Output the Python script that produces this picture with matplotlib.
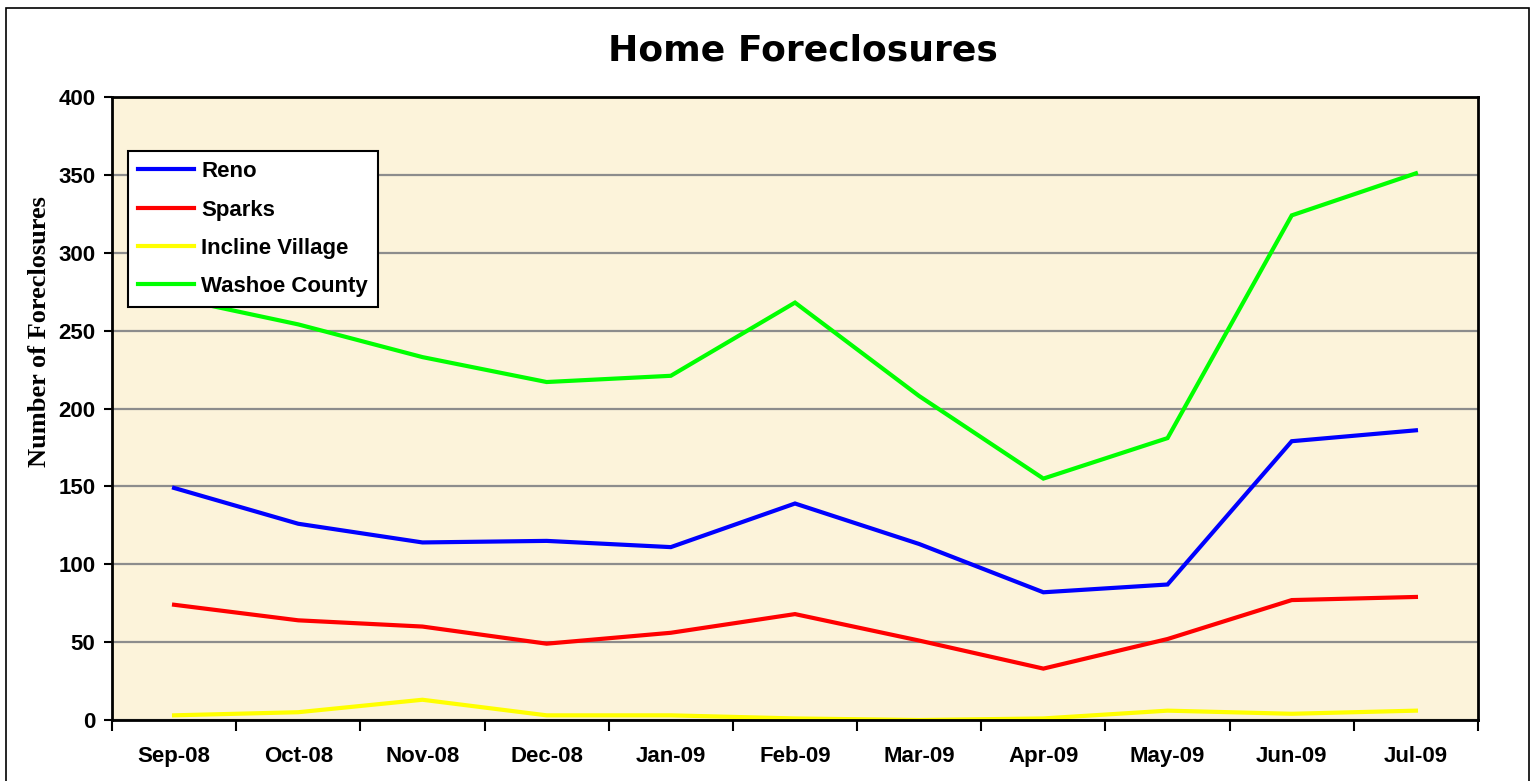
import matplotlib
matplotlib.use("Agg")
import matplotlib.pyplot as plt
from matplotlib.patches import Rectangle

months = ["Sep-08", "Oct-08", "Nov-08", "Dec-08", "Jan-09", "Feb-09",
          "Mar-09", "Apr-09", "May-09", "Jun-09", "Jul-09"]

reno = [149, 126, 114, 115, 111, 139, 113, 82, 87, 179, 186]
sparks = [74, 64, 60, 49, 56, 68, 51, 33, 52, 77, 79]
incline = [3, 5, 13, 3, 3, 1, 0, 1, 6, 4, 6]
washoe = [271, 254, 233, 217, 221, 268, 208, 155, 181, 324, 351]

series = [("Reno", reno, "#0000FF"),
          ("Sparks", sparks, "#FF0000"),
          ("Incline Village", incline, "#FFFF00"),
          ("Washoe County", washoe, "#00FF00")]

fig = plt.figure(figsize=(15.38, 7.81), dpi=100)
fig.patches.append(Rectangle((0.004, -0.01), 0.99, 1.0, transform=fig.transFigure,
                             fill=False, edgecolor="black", linewidth=1.2))

ax = fig.add_axes([0.0728, 0.0781, 0.8882, 0.7977])
ax.set_facecolor("#FCF3DA")

x = list(range(len(months)))
for name, vals, col in series:
    ax.plot(x, vals, color=col, linewidth=3, label=name, solid_joinstyle="miter")

ax.set_xlim(-0.5, len(months) - 0.5)
ax.set_ylim(0, 400)
ax.set_yticks(range(0, 401, 50))
ax.yaxis.grid(True, color="#8C8C8C", linewidth=1.6)
ax.set_axisbelow(True)

ax.set_xticks([i - 0.5 for i in range(len(months) + 1)])
ax.set_xticklabels([])
ax.set_xticks(x, minor=True)
ax.set_xticklabels(months, minor=True)
ax.tick_params(axis="x", which="major", length=8, width=1.5, direction="out")
ax.tick_params(axis="x", which="minor", length=0, pad=19)
ax.tick_params(axis="y", length=6, width=1.5, direction="out", pad=6)

for lbl in ax.get_xticklabels(minor=True) + ax.get_yticklabels():
    lbl.set_fontfamily("Liberation Sans")
    lbl.set_fontweight("bold")
    lbl.set_fontsize(16)

for sp in ax.spines.values():
    sp.set_linewidth(2)
    sp.set_color("black")

ax.set_ylabel("Number of Foreclosures", fontfamily="Liberation Serif",
              fontweight="bold", fontsize=19, va="center")
ax.yaxis.set_label_coords(-0.0527, 0.624)

fig.text(0.522, 0.935, "Home Foreclosures", ha="center", va="center",
         fontfamily="DejaVu Sans", fontweight="bold", fontsize=26)

leg = ax.legend(loc="upper left", bbox_to_anchor=(0.0117, 0.913), fancybox=False,
                framealpha=1, edgecolor="black", handlelength=2.5,
                labelspacing=0.78, borderpad=0.45, handletextpad=0.35,
                borderaxespad=0,
                prop={"family": "Liberation Sans", "weight": "bold", "size": 16})
leg.get_frame().set_linewidth(1.5)

fig.savefig("out.png", dpi=100)
